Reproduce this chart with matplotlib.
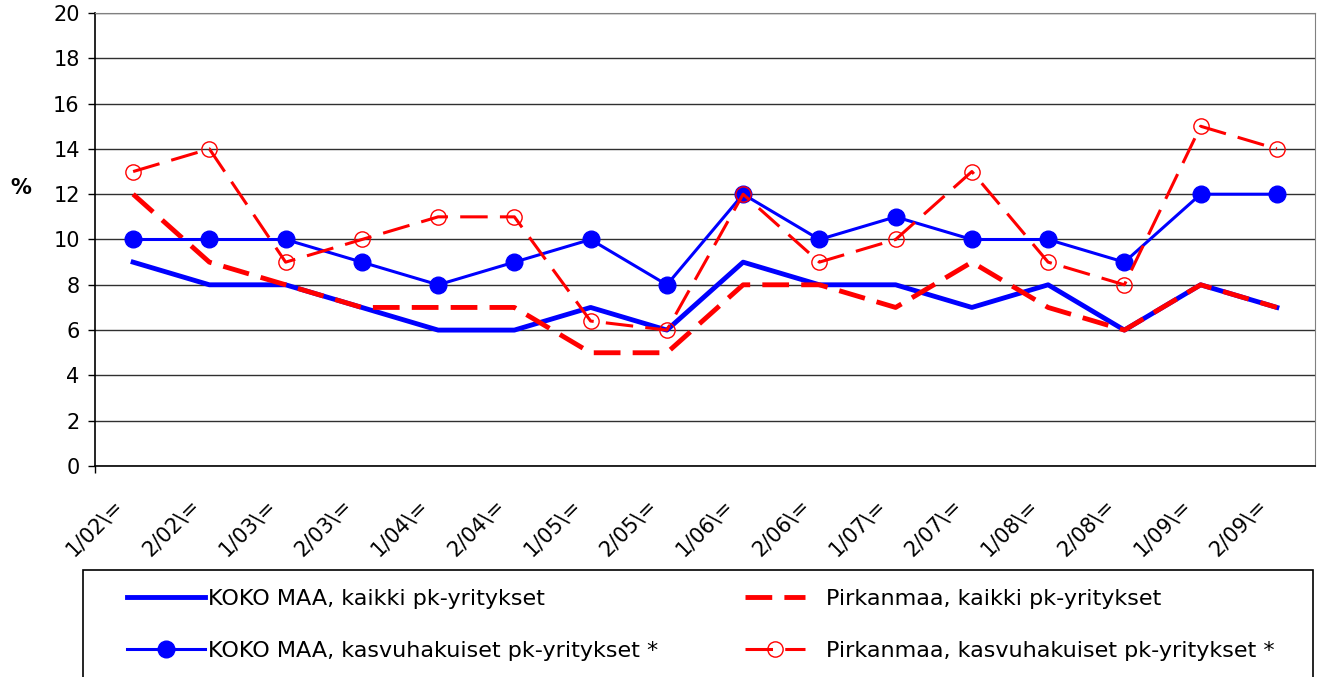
import matplotlib
matplotlib.use("Agg")
import matplotlib.pyplot as plt
import matplotlib.transforms as mtransforms
from matplotlib.patches import Rectangle

plt.rcParams["font.family"] = ["DejaVu Sans"]

# ------------------- DATA -------------------
kaudet = ["1/02\\=", "2/02\\=", "1/03\\=", "2/03\\=", "1/04\\=", "2/04\\=",
          "1/05\\=", "2/05\\=", "1/06\\=", "2/06\\=", "1/07\\=", "2/07\\=",
          "1/08\\=", "2/08\\=", "1/09\\=", "2/09\\="]
koko_kaikki = [9, 8, 8, 7, 6, 6, 7, 6, 9, 8, 8, 7, 8, 6, 8, 7]
pirk_kaikki = [12, 9, 8, 7, 7, 7, 5, 5, 8, 8, 7, 9, 7, 6, 8, 7]
koko_kasvu = [10, 10, 10, 9, 8, 9, 10, 8, 12, 10, 11, 10, 10, 9, 12, 12]
pirk_kasvu = [13, 14, 9, 10, 11, 11, 6.4, 6, 12, 9, 10, 13, 9, 8, 15, 14]
y_ticks = [0, 2, 4, 6, 8, 10, 12, 14, 16, 18, 20]
# --------------------------------------------

W, H = 1319, 677
fig = plt.figure(figsize=(W / 100, H / 100), dpi=100)
ax = fig.add_axes([95 / W, 1 - 466 / H, 1220 / W, 453 / H])

x = list(range(len(kaudet)))
blue = "#0000FF"
red = "#FF0000"

l1, = ax.plot(x, koko_kaikki, color=blue, lw=3.5, zorder=3)
l2, = ax.plot(x, pirk_kaikki, color=red, lw=3.5, linestyle=(0, (5.5, 2.5)), zorder=4)
l3, = ax.plot(x, koko_kasvu, color=blue, lw=2.2, marker="o", markersize=12,
              markerfacecolor=blue, markeredgecolor=blue, zorder=5)
l4, = ax.plot(x, pirk_kasvu, color=red, lw=2.2, linestyle=(0, (9, 4)), marker="o",
              markersize=11, markerfacecolor="none", markeredgecolor=red,
              markeredgewidth=1.0, zorder=6)

ax.set_xlim(-0.5, len(kaudet) - 0.5)
ax.set_ylim(0, 20)
ax.set_yticks(y_ticks)
ax.tick_params(axis="y", labelsize=15, length=5, width=1, direction="out", pad=6)
ax.set_xticks(x)
ax.set_xticklabels(kaudet, rotation=45, ha="right", va="center",
                   rotation_mode="anchor", fontsize=15)
ax.tick_params(axis="x", length=0, pad=26)
shift = mtransforms.ScaledTranslation(-0.13, 0, fig.dpi_scale_trans)
for lab in ax.get_xticklabels():
    lab.set_transform(lab.get_transform() + shift)
ax.set_xticks([-0.5], minor=True)
ax.tick_params(axis="x", which="minor", length=5, width=1, direction="out")

ax.grid(axis="y", color="#303030", lw=1)
ax.set_axisbelow(True)
for s in ["top", "right"]:
    ax.spines[s].set_color("#808080")
for s in ["left", "bottom"]:
    ax.spines[s].set_color("black")
    ax.spines[s].set_linewidth(1.2)

ax.text(-0.061, 0.614, "%", transform=ax.transAxes, fontsize=15, fontweight="bold",
        ha="center", va="center")

# legend box
fig.patches.append(Rectangle((83 / W, -0.05), (1313 - 83) / W, (1 - 570 / H) + 0.05,
                             transform=fig.transFigure, facecolor="white",
                             edgecolor="black", lw=1.2))

leg1 = fig.legend([l1, l3], ["KOKO MAA, kaikki pk-yritykset",
                              "KOKO MAA, kasvuhakuiset pk-yritykset *"],
                  loc="center left", bbox_to_anchor=(127 / W, 1 - 625 / H),
                  frameon=False, fontsize=16, handlelength=3.5, handletextpad=0.15,
                  labelspacing=1.45, borderpad=0, borderaxespad=0)
leg2 = fig.legend([l2, l4], ["Pirkanmaa, kaikki pk-yritykset",
                              "Pirkanmaa, kasvuhakuiset pk-yritykset *"],
                  loc="center left", bbox_to_anchor=(745 / W, 1 - 625 / H),
                  frameon=False, fontsize=16, handlelength=2.7, handletextpad=0.95,
                  labelspacing=1.45, borderpad=0, borderaxespad=0)

fig.savefig("out.png", dpi=100)
